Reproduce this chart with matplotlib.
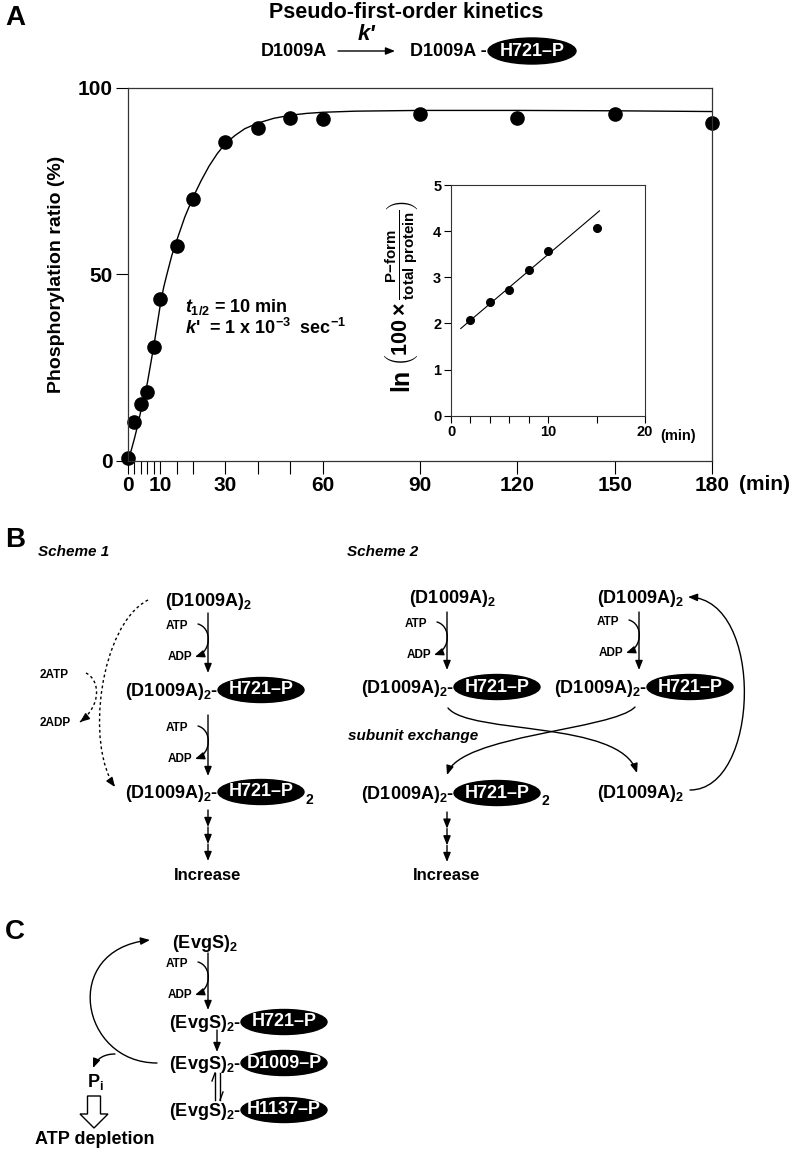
import numpy as np
import matplotlib
matplotlib.use("Agg")
import matplotlib.pyplot as plt
from matplotlib.patches import Ellipse, FancyArrowPatch, PathPatch, FancyArrow
from matplotlib.path import Path

plt.rcParams['font.family'] = ['Liberation Sans', 'DejaVu Sans']
plt.rcParams['font.weight'] = 'bold'
plt.rcParams['axes.labelweight'] = 'bold'
plt.rcParams['mathtext.fontset'] = 'custom'
plt.rcParams['mathtext.rm'] = 'Liberation Sans:bold'
plt.rcParams['mathtext.bf'] = 'Liberation Sans:bold'
plt.rcParams['mathtext.it'] = 'Liberation Sans:bold:italic'
plt.rcParams['mathtext.default'] = 'bf'

# --- panel A data ---
time_min = [0, 2, 4, 6, 8, 10, 15, 20, 30, 40, 50, 60, 90, 120, 150, 180]
phos_pct = [0.8, 10.3, 15.1, 18.3, 30.4, 43.3, 57.5, 70.2, 85.5, 89.1, 91.8,
            91.5, 92.9, 91.9, 92.9, 90.4]
# fitted curve, traced point by point
fit_t = [0, 1, 2, 3, 4, 5, 6, 7, 8, 9, 10, 11, 12, 13.5, 15, 17.5, 20, 22.5,
         25, 27.5, 30, 33, 36, 40, 45, 50, 55, 60, 70, 90, 120, 150, 180]
fit_pct = [0, 2.8, 6, 9.5, 13.5, 17, 21, 26, 31, 36.5, 42, 46.5, 50, 55, 59,
           65.3, 70.5, 75, 79, 82.3, 85, 87.2, 89, 90.5, 91.8, 92.6, 93.1,
           93.4, 93.7, 93.9, 93.9, 93.8, 93.6]
x_ticks = [0, 2, 4, 6, 8, 10, 15, 20, 30, 40, 50, 60, 90, 120, 150, 180]
x_ticklabels = ['0', '', '', '', '', '10', '', '', '30', '', '', '60', '90',
                '120', '150', '180']

# inset: ln(100 x P-form / total protein)
ln_t = [2, 4, 6, 8, 10, 15]
ln_val = [2.07, 2.47, 2.73, 3.16, 3.57, 4.06]
ln_fit_t = [1, 15.3]
ln_fit_val = [1.89, 4.44]
in_xticks = [0, 2, 4, 6, 8, 10, 15, 20]
in_xticklabels = ['0', '', '', '', '', '10', '', '20']

fig = plt.figure(figsize=(8, 11.52), dpi=100)

ax = fig.add_axes([0.16, 0.6001, 0.73, 0.3238])
ax.plot(fit_t, fit_pct, color='k', lw=1)
ax.plot(time_min, phos_pct, 'o', color='k', ms=9.5, clip_on=False)
ax.set_xlim(0, 180); ax.set_ylim(0, 100)
ax.set_xticks(x_ticks); ax.set_xticklabels(x_ticklabels)
ax.set_yticks([0, 50, 100])
ax.tick_params(direction='out', length=9, width=0.8, labelsize=15, pad=2)
for s in ax.spines.values():
    s.set_linewidth(0.9); s.set_color('#333333')
ax.set_ylabel('Phosphorylation ratio (%)', fontsize=14, fontweight='bold')
ax.yaxis.set_label_coords(-0.108, 0.5)
ax.text(17.5, 41.3, r'$\mathit{t}_{1/2}$ = 10 min', fontsize=13, va='center')
ax.text(17.5, 35.6, r"$\mathit{k}$'  = 1 x 10$^{-3}$  sec$^{-1}$", fontsize=13,
        va='center')

ax2 = fig.add_axes([0.5638, 0.6391, 0.2425, 0.2003])
ax2.plot(ln_fit_t, ln_fit_val, color='k', lw=0.8)
ax2.plot(ln_t, ln_val, 'o', color='k', ms=5.5)
ax2.set_xlim(0, 20); ax2.set_ylim(0, 5)
ax2.set_xticks(in_xticks); ax2.set_xticklabels(in_xticklabels)
ax2.set_yticks(range(6))
ax2.tick_params(direction='out', length=5, width=0.8, labelsize=10.5, pad=2)
for s in ax2.spines.values():
    s.set_linewidth(0.8); s.set_color('#333333')

# --- overlay in pixel coordinates for labels and schemes ---
ov = fig.add_axes([0, 0, 1, 1], zorder=5)
ov.set_xlim(0, 800); ov.set_ylim(1152, 0); ov.axis('off')

# inset y label: big "ln" and the bracketed ratio
ov.text(401, 380, 'ln', fontsize=18, rotation=90, ha='center', va='center')
ov.text(402, 283, r'$\left(100\times\frac{P\mathrm{-}form}{total\ protein}\right)$',
        fontsize=15.5, rotation=90, ha='center', va='center')

HEAD = '-|>,head_length=0.55,head_width=0.22'


def arrow(p0, p1):
    ov.annotate('', xy=p1, xytext=p0,
                arrowprops=dict(arrowstyle=HEAD, lw=1, color='k',
                                shrinkA=0, shrinkB=0))


def curve(pts, dashed=False):
    pts = np.array(pts, float)
    codes = [Path.MOVETO] + [Path.CURVE4] * 3
    p = Path(pts, codes)
    if not dashed:
        ov.add_patch(FancyArrowPatch(path=p, arrowstyle=HEAD, lw=1, color='k',
                                     mutation_scale=10))
    else:
        ov.add_patch(PathPatch(p, fill=False, lw=1, ls=(0, (2, 2)), ec='k'))
        d = pts[3] - pts[2]
        d = d / np.hypot(*d)
        arrow(pts[3] - 5 * d, pts[3])


def curl(xline, y_atp, y_adp):
    curve([(xline - 10, y_atp - 2), (xline + 4, y_atp + 2),
           (xline + 4, y_adp - 6), (xline - 13, y_adp)])
    ov.text(xline - 20, y_atp, 'ATP', fontsize=8.5, ha='right', va='center')
    ov.text(xline - 16, y_adp, 'ADP', fontsize=8.5, ha='right', va='center')


def tagged(name, xc, y, tag, sub=''):
    ov.add_patch(Ellipse((xc, y), 86, 25, color='k'))
    ov.text(xc, y, tag, color='white', fontsize=13, ha='center', va='center')
    ov.text(xc - 43, y + 6, r'$%s_2$-' % name, fontsize=13, ha='right', va='baseline')
    if sub:
        ov.text(xc + 44, y + 12, sub, fontsize=10, ha='left', va='baseline')


def plain(name, xc, y):
    ov.text(xc, y + 6, r'$%s_2$' % name, fontsize=13, ha='center', va='baseline')


def triple(x, y0, y1):
    ys = np.linspace(y0, y1, 4)
    for a, b in zip(ys[:-1], ys[1:]):
        arrow((x, a), (x, b))


# panel A header
ov.text(5, 18, 'A', fontsize=20, va='center')
ov.text(406, 12, 'Pseudo-first-order kinetics', fontsize=15.5, ha='center', va='center')
ov.text(294, 51, 'D1009A', fontsize=13, ha='center', va='center')
arrow((338, 51), (395, 51))
ov.text(366, 35, "k'", fontsize=16, style='italic', ha='center', va='center')
ov.text(487, 51, 'D1009A -', fontsize=13, ha='right', va='center')
ov.add_patch(Ellipse((532, 51), 88, 26, color='k'))
ov.text(532, 51, 'H721\u2013P', color='white', fontsize=13, ha='center', va='center')
ov.text(764, 485, '(min)', fontsize=15, ha='center', va='center')
ov.text(678, 436, '(min)', fontsize=10.5, ha='center', va='center')

# panel B, scheme 1
ov.text(5, 540, 'B', fontsize=20, va='center')
ov.text(38, 552, 'Scheme 1', fontsize=11, style='italic', va='center')
plain('(D1009A)', 208, 600)
arrow((208, 613), (208, 673)); curl(208, 626, 657)
tagged('(D1009A)', 261, 690, 'H721\u2013P')
arrow((208, 715), (208, 776)); curl(208, 728, 759)
tagged('(D1009A)', 261, 792, 'H721\u2013P', '2')
triple(208, 810, 861)
ov.text(208, 875, 'Increase', fontsize=12, ha='center', va='center')
curve([(148, 600), (100, 625), (85, 745), (115, 787)], dashed=True)
curve([(86, 673), (100, 680), (102, 705), (80, 722)], dashed=True)
ov.text(40, 675, '2ATP', fontsize=8.5, va='center')
ov.text(40, 723, '2ADP', fontsize=8.5, va='center')

# panel B, scheme 2
ov.text(347, 552, 'Scheme 2', fontsize=11, style='italic', va='center')
plain('(D1009A)', 452, 597)
arrow((447, 612), (447, 670)); curl(447, 624, 655)
tagged('(D1009A)', 497, 687, 'H721\u2013P')
plain('(D1009A)', 640, 597)
arrow((639, 612), (639, 670)); curl(639, 622, 653)
tagged('(D1009A)', 690, 687, 'H721\u2013P')
curve([(448, 708), (470, 735), (620, 720), (637, 773)])
curve([(635, 707), (613, 730), (460, 735), (447, 775)])
ov.text(348, 736, 'subunit exchange', fontsize=11, style='italic', va='center')
tagged('(D1009A)', 497, 793, 'H721\u2013P', '2')
plain('(D1009A)', 640, 792)
curve([(690, 790), (760, 790), (765, 600), (688, 597)])
triple(447, 812, 862)
ov.text(447, 875, 'Increase', fontsize=12, ha='center', va='center')

# panel C
ov.text(5, 932, 'C', fontsize=20, va='center')
plain('(EvgS)', 205, 942)
arrow((208, 953), (208, 1010)); curl(208, 964, 995)
tagged('(EvgS)', 284, 1022, 'H721\u2013P')
arrow((217, 1030), (217, 1052))
tagged('(EvgS)', 284, 1063, 'D1009\u2013P')
ov.plot([215, 215], [1100, 1073], color='k', lw=1)
ov.plot([215, 212], [1073, 1081], color='k', lw=1)
ov.plot([220, 220], [1073, 1100], color='k', lw=1)
ov.plot([220, 223], [1100, 1092], color='k', lw=1)
tagged('(EvgS)', 284, 1110, 'H1137\u2013P')
curve([(157, 1063), (80, 1063), (60, 950), (150, 940)])
curve([(115, 1054), (105, 1054), (97, 1058), (93, 1068)])
ov.text(95, 1082, r'P$_\mathregular{i}$', fontsize=13, ha='center', va='center')
ov.add_patch(FancyArrow(94, 1096, 0, 32, width=13, head_width=28, head_length=14,
                        length_includes_head=True, fc='white', ec='k', lw=1))
ov.text(95, 1140, 'ATP depletion', fontsize=13, ha='center', va='center')

fig.savefig('out.png', dpi=100)
